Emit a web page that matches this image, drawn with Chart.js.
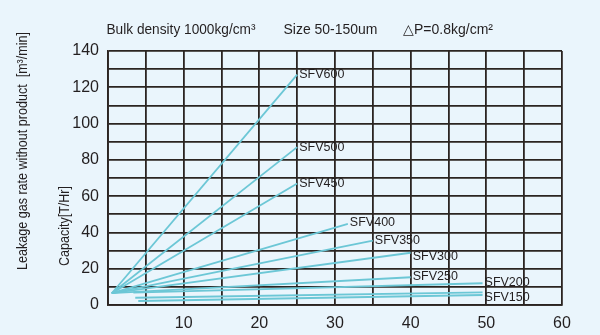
<!DOCTYPE html>
<html><head><meta charset="utf-8">
<script src="https://cdn.jsdelivr.net/npm/chart.js@4"></script>
<style>html,body{margin:0;padding:0;background:#eaf5fc;}canvas{display:block}</style>
</head><body>
<canvas id="c" width="600" height="335"></canvas>
<script>
// ---- data ----
const seriesNames = ['SFV600','SFV500','SFV450','SFV400','SFV350','SFV300','SFV250','SFV200','SFV150',''];
const startX = [0.5,0.5,0.5,0.5,0.5,0.5,0.5,3.35,3.6,4.0];
const startY = [6.5,6.5,6.5,6.5,6.5,6.5,6.5,6.8,4.0,2.2];
const endX   = [25,25,25,31.7,35,40,40,49.5,49.5,49.5];
const endY   = [127,87,67,44.7,35.5,28.8,15.3,12,7,5.5];
const xTickLabels = [10,20,30,40,50,60];
const yTickLabels = [0,20,40,60,80,100,120,140];
const titleParts = ['Bulk density 1000kg/cm³','Size 50-150um','△P=0.8kg/cm²'];
const yTitleOuter = 'Leakage gas rate without product  [m³/min]';
const yTitleInner = 'Capacity[T/Hr]';

// ---- style / layout ----
const FONT = "'Liberation Sans', Arial, sans-serif";
const BG = '#eaf5fc';
const GRID = '#2b2421';
const LINE = '#6cc7d6';
const TEXT = '#231f20';
const labelDy = [0,0,0,-1,0,4,-1,-1,5,0];

const overlay = {
  id:'overlay',
  beforeDraw(chart){
    const c = chart.ctx;
    c.save(); c.fillStyle = BG; c.fillRect(0,0,chart.width,chart.height); c.restore();
  },
  afterDatasetsDraw(chart){
    const c = chart.ctx, xs = chart.scales.x, ys = chart.scales.y;
    c.save();
    c.fillStyle = TEXT;
    c.font = '12.5px ' + FONT;
    c.textAlign = 'left'; c.textBaseline = 'middle';
    seriesNames.forEach((n,i)=>{
      if(!n) return;
      c.fillText(n, xs.getPixelForValue(endX[i]) + 2, ys.getPixelForValue(endY[i]) + labelDy[i]);
    });
    c.font = '14px ' + FONT;
    const tx = [106.5, 283.5, 403], tw = [149, 94, 93];
    titleParts.forEach((t,i)=> c.fillText(t, tx[i], 30, tw[i]));
    c.font = '14px ' + FONT;
    c.textAlign = 'center';
    c.save(); c.translate(23, 151); c.rotate(-Math.PI/2);
    c.fillText(yTitleOuter, 0, 0, 238); c.restore();
    c.save(); c.translate(65, 226); c.rotate(-Math.PI/2);
    c.fillText(yTitleInner, 0, 0, 80); c.restore();
    c.restore();
  }
};

new Chart(document.getElementById('c'), {
  type:'line',
  data:{
    datasets: seriesNames.map((n,i)=>({
      label: n || 'extra',
      data: [{x:startX[i], y:startY[i]}, {x:endX[i], y:endY[i]}],
      borderColor: LINE, borderWidth: 1.8, pointRadius: 0, fill: false, tension: 0
    }))
  },
  options:{
    responsive:false, animation:false, devicePixelRatio:1,
    layout:{padding:{top:51, right:38, left:0, bottom:0}},
    plugins:{legend:{display:false}, tooltip:{enabled:false}, title:{display:false}},
    scales:{
      x:{
        type:'linear', min:0, max:60,
        ticks:{stepSize:5, autoSkip:false, maxRotation:0, padding:9, color:TEXT,
          font:{family:FONT, size:16},
          callback:v => xTickLabels.includes(v) ? String(v) : ''},
        grid:{color:GRID, lineWidth:1.8, drawTicks:false},
        border:{color:GRID, width:1.8},
        afterFit(s){ s.height = 30; }
      },
      y:{
        type:'linear', min:0, max:140,
        ticks:{stepSize:10, autoSkip:false, padding:9, color:TEXT,
          font:{family:FONT, size:16},
          callback:v => yTickLabels.includes(v) ? String(v) : ''},
        grid:{color:GRID, lineWidth:1.8, drawTicks:false},
        border:{color:GRID, width:1.8},
        afterFit(s){ s.width = 108; }
      }
    }
  },
  plugins:[overlay]
});
</script>
</body></html>
